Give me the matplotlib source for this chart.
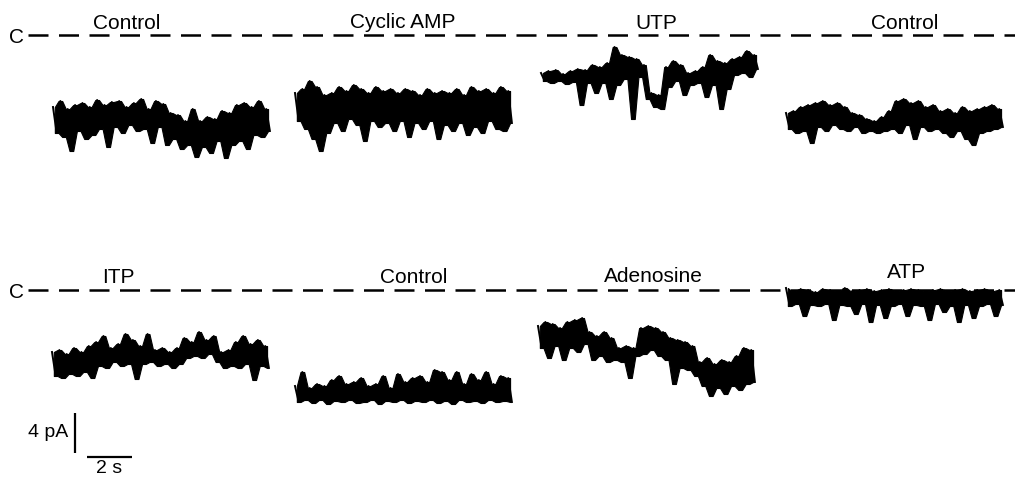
# Single-channel current records, eight conditions, common closed level C.

import numpy as np
import matplotlib.pyplot as plt

plt.rcParams["font.family"] = ["Liberation Sans", "DejaVu Sans"]

# ---- data: current relative to closed level (pA), sampled every DT seconds
DT = 0.1634
labels_top = ["Control", "Cyclic AMP", "UTP", "Control"]
labels_bottom = ["ITP", "Control", "Adenosine", "ATP"]

control_1 = [-7.2, -9.8, -6.6, -10.2, -7.4, -11.6, -7.0, -9.6, -6.8, -10.4, -7.2, -10.0, -6.5, -9.4, -7.0,
             -11.2, -6.7, -9.2, -6.6, -9.8, -7.2, -9.0, -6.8, -9.6, -6.4, -9.4, -7.4, -10.8, -6.6, -9.2,
             -6.9, -11.0, -7.8, -10.4, -8.0, -11.4, -8.6, -11.0, -7.4, -12.2, -8.6, -11.2, -8.2, -11.8, -8.4,
             -10.6, -7.6, -12.3, -7.8, -11.0, -7.0, -10.6, -6.8, -11.4, -7.2, -10.0, -6.6, -10.2, -7.4, -9.6]
cyclic_amp = [-5.8, -8.6, -5.4, -9.4, -4.6, -10.4, -5.2, -11.6, -6.0, -9.8, -5.8, -8.8, -5.2, -9.6, -5.6,
              -8.4, -5.0, -9.0, -5.4, -10.6, -5.8, -8.6, -5.2, -9.2, -5.6, -8.8, -5.4, -9.6, -5.8, -8.6,
              -5.4, -10.2, -5.6, -8.8, -6.0, -9.4, -5.4, -8.6, -5.8, -10.4, -5.6, -9.0, -5.8, -9.6, -5.4,
              -8.8, -6.0, -10.0, -5.2, -9.2, -5.6, -9.8, -5.4, -8.6, -5.8, -9.4, -5.2, -9.6, -5.6, -8.8]
utp = [-3.8, -4.6, -3.6, -4.8, -3.5, -4.6, -3.9, -4.9, -3.6, -4.7, -3.4, -7.0, -3.5, -4.8, -3.0,
       -5.8, -3.2, -4.8, -2.8, -6.4, -1.2, -5.0, -2.0, -4.4, -2.2, -8.4, -2.4, -4.2, -3.0, -6.4,
       -5.8, -7.2, -6.0, -7.4, -3.2, -5.2, -2.6, -4.6, -3.0, -6.0, -3.8, -5.0, -3.6, -4.8, -3.2,
       -6.2, -2.0, -5.0, -2.6, -7.4, -2.8, -5.4, -2.4, -4.0, -2.2, -3.8, -1.6, -4.2, -2.0, -3.4]
control_2 = [-7.8, -9.4, -7.6, -9.8, -7.2, -9.6, -7.0, -10.8, -6.8, -9.2, -6.6, -9.6, -7.0, -9.0, -6.8,
             -9.4, -7.2, -9.6, -7.8, -9.2, -8.0, -9.8, -8.4, -9.6, -8.6, -9.8, -8.2, -9.6, -7.6, -9.4,
             -6.6, -9.8, -6.4, -9.0, -6.8, -10.4, -6.6, -9.2, -7.2, -9.6, -7.0, -9.4, -7.6, -9.8, -7.4,
             -10.2, -7.8, -9.6, -7.2, -10.4, -7.6, -11.0, -7.4, -9.8, -7.2, -9.6, -7.0, -9.4, -7.4, -9.2]
itp = [-6.2, -8.6, -6.0, -8.8, -6.4, -8.4, -5.8, -8.6, -6.2, -8.2, -5.6, -8.8, -5.2, -7.6, -4.6,
       -7.8, -5.8, -7.2, -5.4, -7.6, -4.4, -7.4, -5.0, -8.9, -5.6, -7.4, -4.4, -7.2, -6.0, -7.6,
       -5.8, -7.4, -6.2, -7.8, -5.8, -7.4, -4.8, -6.8, -5.2, -6.6, -4.2, -6.8, -5.0, -6.4, -4.6,
       -7.2, -6.2, -7.8, -6.0, -7.6, -5.2, -7.8, -4.6, -7.4, -5.4, -9.0, -5.0, -7.6, -5.6, -7.8]
control_3 = [-9.6, -11.2, -8.2, -11.0, -9.8, -11.3, -9.4, -11.0, -9.6, -11.4, -9.0, -11.1, -8.6, -11.2, -9.4,
             -11.0, -9.2, -11.3, -8.8, -11.2, -9.6, -11.0, -9.4, -11.4, -8.6, -11.1, -9.8, -11.2, -8.4, -11.0,
             -9.2, -11.3, -8.8, -11.1, -8.6, -11.2, -9.2, -11.0, -8.0, -11.3, -8.2, -11.1, -9.0, -11.4, -8.2,
             -11.0, -9.4, -11.2, -8.4, -11.1, -9.0, -11.3, -8.2, -11.0, -9.4, -11.2, -8.6, -11.1, -8.8, -11.2]
adenosine = [-3.6, -5.8, -3.2, -6.8, -3.4, -5.6, -3.8, -7.0, -3.2, -5.8, -3.0, -6.2, -2.8, -5.4, -4.2,
             -7.0, -4.6, -6.6, -4.2, -7.2, -4.8, -7.0, -5.8, -7.2, -5.6, -8.8, -5.8, -6.6, -3.8, -6.4,
             -3.6, -6.0, -3.8, -6.6, -4.2, -7.0, -4.8, -9.4, -5.0, -7.8, -5.2, -8.0, -5.6, -8.6, -7.2,
             -9.6, -6.8, -10.6, -7.4, -9.8, -7.0, -10.4, -7.2, -9.6, -6.6, -10.0, -5.8, -9.4, -6.0, -9.2]
atp = [0.2, -1.6, -0.1, -1.4, 0.1, -2.6, 0.0, -1.5, -0.2, -1.6, 0.1, -1.4, 0.0, -3.0, -0.1,
       -1.5, 0.2, -1.6, -0.1, -2.4, 0.0, -1.4, 0.1, -3.2, -0.1, -1.5, 0.0, -2.8, 0.1, -1.6,
       -0.1, -1.4, 0.0, -2.6, 0.1, -1.5, 0.0, -1.6, -0.1, -3.0, 0.0, -1.4, 0.1, -2.2, -0.1,
       -1.6, 0.0, -3.2, 0.1, -1.5, -0.1, -2.8, 0.0, -1.6, 0.1, -1.4, -0.1, -2.6, 0.0, -1.5]

traces_top = [control_1, cyclic_amp, utp, control_2]
traces_bottom = [itp, control_3, adenosine, atp]

SCALE_PA = 4
SCALE_S = 2

# ---- layout (pixels of the 1015x480 figure)
PX_PER_S = 22.5
PX_PER_PA = 10.0
W, H = 1015, 480
row_c = [35, 290]                       # closed level of each row
col_x_top = [53, 295, 541, 786]
col_x_bottom = [52, 295, 538, 786]
label_x_top = [127, 403, 656, 905]
label_x_bottom = [118, 414, 653, 907]
label_y_top = [29, 28, 29, 29]
label_y_bottom = [283, 283, 282, 278]


def sx(px):
    return px / PX_PER_S


def sy(px):
    return -px / PX_PER_PA


fig = plt.figure(figsize=(W / 100, H / 100), dpi=100)
ax = fig.add_axes([0, 0, 1, 1])
ax.set_xlim(0, sx(W))
ax.set_ylim(sy(H), 0)
ax.axis("off")

rows = [(traces_top, col_x_top, labels_top, label_x_top, label_y_top),
        (traces_bottom, col_x_bottom, labels_bottom, label_x_bottom, label_y_bottom)]

for r, (traces, xs, labs, lxs, lys) in enumerate(rows):
    c = sy(row_c[r])
    ax.plot([sx(28), sx(W)], [c, c], color="black", lw=1.8, dashes=(8, 4.2), solid_capstyle="butt")
    ax.text(sx(17), sy(row_c[r] + 8), "C", fontsize=15, ha="center", va="baseline")
    for tr, x0, lab, lx, ly in zip(traces, xs, labs, lxs, lys):
        tr = np.asarray(tr)
        t = sx(x0) + np.arange(len(tr)) * DT
        # band between neighbouring maxima and minima: dense record look
        tm = t[:-1] + DT / 2
        ax.fill_between(tm, np.minimum(tr[:-1], tr[1:]) + c, np.maximum(tr[:-1], tr[1:]) + c,
                        color="black", lw=0.8)
        ax.plot(t, c + tr, color="black", lw=1.4, solid_joinstyle="round")
        ax.text(sx(lx), sy(ly), lab, fontsize=15, ha="center", va="baseline")

# scale bars
ax.plot([sx(75), sx(75)], [sy(453), sy(453) + SCALE_PA], color="black", lw=1.6, solid_capstyle="butt")
ax.plot([sx(87), sx(87) + SCALE_S], [sy(457), sy(457)], color="black", lw=1.6, solid_capstyle="butt")
ax.text(sx(68), sy(437), f"{SCALE_PA} pA", fontsize=14, ha="right", va="baseline")
ax.text(sx(87) + SCALE_S / 2, sy(473), f"{SCALE_S} s", fontsize=14, ha="center", va="baseline")

fig.savefig("out.png", dpi=100, facecolor="white")
